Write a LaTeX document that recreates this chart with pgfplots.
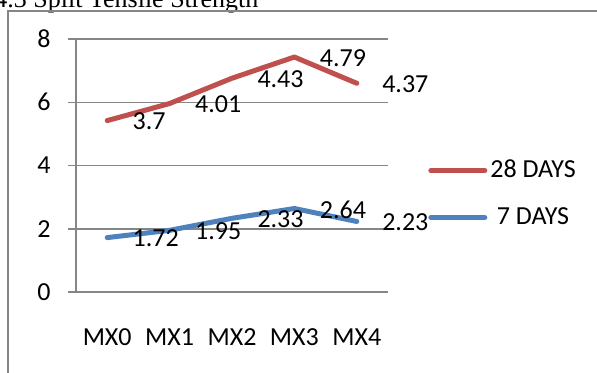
\documentclass[border=0pt]{standalone}
\usepackage{pgfplots}
\pgfplotsset{compat=1.18}
\usepackage{pgfplotstable}
\usepackage{fontspec}
\setmainfont{Carlito}
\newfontfamily\titlefont{Liberation Serif}
\definecolor{exred}{HTML}{C0504D}
\definecolor{exblue}{HTML}{4F81BD}
\definecolor{exgray}{HTML}{868686}
\pgfplotstableread{
x d7 d28
0 1.72 3.7
1 1.95 4.01
2 2.33 4.43
3 2.64 4.79
4 2.23 4.37
}\datatable
\begin{document}
\begin{tikzpicture}
\useasboundingbox (0,0) rectangle (298.5pt,186.5pt);
\node[anchor=base west, inner sep=0pt, font=\titlefont\fontsize{13}{15}\selectfont] at (-3pt,182.5pt) {4.3 Split Tensile Strength};
\draw[exgray, line width=1pt] (4pt,-5pt) -- (4pt,180.75pt) -- (310pt,180.75pt);
\begin{axis}[
  at={(38pt,40.5pt)}, anchor=south west,
  scale only axis, width=156pt, height=126.5pt,
  xmin=-0.5, xmax=4.5, ymin=0, ymax=8,
  axis x line*=bottom, axis y line*=left,
  axis line style={exgray, line width=0.75pt, -},
  xtick={0,...,4}, xticklabels={MX0,MX1,MX2,MX3,MX4},
  xtick style={draw=none},
  minor xtick={-0.5,0.5,1.5,2.5,3.5,4.5},
  minor x tick style={exgray, line width=0.75pt},
  minor tick length=4pt,
  ytick={0,2,...,8},
  ytick style={exgray, line width=0.75pt},
  major tick length=4pt,
  tick align=outside,
  ymajorgrids, grid style={exgray, line width=0.75pt},
  font=\fontsize{13}{15}\selectfont,
  tick label style={font=\fontsize{13}{15}\selectfont},
  /pgf/number format/assume math mode=true,
  yticklabel style={anchor=east, inner sep=0pt, xshift=-8.5pt},
  xticklabel style={anchor=north, inner sep=0pt, yshift=-14pt},
  stack plots=y,
  point meta=explicit symbolic,
  nodes near coords={\pgfplotspointmeta},
  nodes near coords style={anchor=west, inner sep=0pt, xshift=11.5pt, yshift=-0.5pt, font=\fontsize{13}{15}\selectfont, black},
  legend style={draw=none, fill=none, at={(1.128,0.387)}, anchor=west, inner sep=0pt,
    row sep=8pt, nodes={inner sep=1.5pt, text height=9.5pt, text depth=3pt, font=\fontsize{13}{15}\selectfont}},
  legend image code/.code={\draw[#1, line cap=round] (0pt,0pt) -- (27pt,0pt);},
  reverse legend,
  clip=false,
]
\addplot[exblue, line width=2.5pt, line cap=round, line join=round] table[x=x, y=d7, meta=d7] {\datatable};
\addlegendentry{7 DAYS}
\addplot[exred, line width=2.5pt, line cap=round, line join=round] table[x=x, y=d28, meta=d28] {\datatable};
\addlegendentry{28 DAYS}
\end{axis}
\end{tikzpicture}
\end{document}
